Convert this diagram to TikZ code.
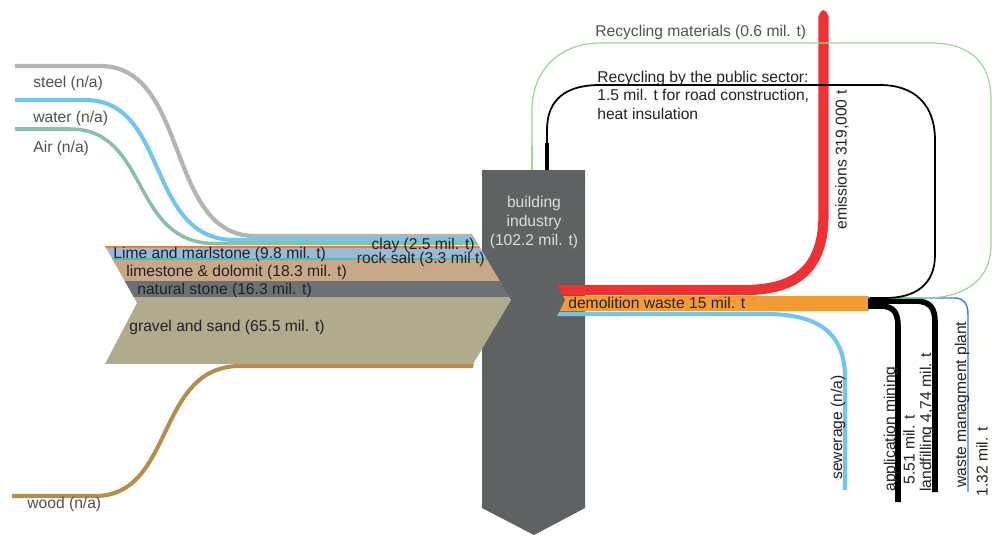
\documentclass[tikz,border=0pt]{standalone}
\usepackage{fontspec}
\setmainfont{Liberation Sans}
\usetikzlibrary{positioning}
\definecolor{boxgray}{HTML}{5F6263}
\definecolor{steelgray}{HTML}{B4B4B5}
\definecolor{waterblue}{HTML}{71C5EE}
\definecolor{airteal}{HTML}{88BFAB}
\definecolor{clayorange}{HTML}{F07E2C}
\definecolor{limeblue}{HTML}{9EB8D8}
\definecolor{saltcyan}{HTML}{3FC1C9}
\definecolor{limetan}{HTML}{C7A889}
\definecolor{stonegray}{HTML}{6E7174}
\definecolor{gravelkhaki}{HTML}{B1AB8D}
\definecolor{woodbrown}{HTML}{B48E4C}
\definecolor{emitred}{HTML}{EE3133}
\definecolor{wasteorange}{HTML}{F49C34}
\definecolor{sewerblue}{HTML}{6FC6EF}
\definecolor{plantblue}{HTML}{3A80C4}
\definecolor{recgreen}{HTML}{9ED699}
\definecolor{textdark}{HTML}{222222}
\definecolor{textgray}{HTML}{505050}
\definecolor{boxtext}{HTML}{DCDCDC}

\begin{document}
\begin{tikzpicture}[
    x=0.02cm, y=-0.02cm,
    flowtext/.style={
        font=\fontsize{8.9}{10.5}\selectfont,
        inner sep=0pt,
        anchor=west,
        text=textdark,
    },
    intext/.style={flowtext, text=textgray},
    uptext/.style={flowtext, rotate=90},
    thickflow/.style={line width=3.2pt, line cap=butt},
]
\useasboundingbox (0,0) rectangle (992,535);

\fill[boxgray] (482,170) -- (585,170) -- (585,508) -- (534,535) -- (482,508) -- cycle;

\begin{scope}
\clip (105,246) -- (137,303) -- (105,364) -- (473,364) -- (511,300) -- (472,234) -- (105,234) -- cycle;
\fill[limeblue] (100,247) rectangle (520,258);
\fill[saltcyan] (100,257.5) rectangle (520,260);
\fill[limetan] (100,260) rectangle (520,281);
\fill[stonegray] (100,281) rectangle (520,297);
\fill[gravelkhaki] (100,297) rectangle (520,364);
\fill[clayorange] (100,245.8) rectangle (520,247.6);
\end{scope}

\begin{scope}
\clip (0,0) -- (430,0) -- (472,234) -- (511,300) -- (473,366) -- (473,535) -- (0,535) -- cycle;
\draw[steelgray, line width=2.4pt] (15,66) -- (100,66) .. controls (190,66) and (165,236) .. (255,236) -- (520,236);
\draw[waterblue, line width=2.3pt] (15,100) -- (85,100) .. controls (170,100) and (145,240) .. (235,240) -- (520,240);
\draw[airteal, line width=2pt] (15,129) -- (70,129) .. controls (150,129) and (130,243.5) .. (215,243.5) -- (520,243.5);
\draw[woodbrown, line width=2.3pt] (12,496) -- (95,496) .. controls (175,496) and (155,366) .. (240,366) -- (520,366);
\end{scope}

\node[intext] (steel) at (33,83) {steel (n/a)};
\node[intext] (water) at (33,118) {water (n/a)};
\node[intext] (air) at (33,148) {Air (n/a)};
\node[intext] (wood) at (27,504) {wood (n/a)};

\node[flowtext] (lime) at (113,254) {Lime and marlstone (9.8 mil. t)};
\node[flowtext, anchor=east] (clay) at (475,245) {clay (2.5 mil. t)};
\node[flowtext, anchor=east] (salt) at (485,259) {rock salt (3.3 mil t)};
\node[flowtext] (limestone) at (126,272) {limestone \& dolomit (18.3 mil. t)};
\node[flowtext] (stone) at (137,290) {natural stone (16.3 mil. t)};
\node[flowtext] (gravel) at (129,327) {gravel and sand (65.5 mil. t)};

\node[flowtext, anchor=center, align=center, text=boxtext,
      font=\fontsize{8.9}{10.8}\selectfont] (industry) at (534,222) {building\\industry\\(102.2 mil. t)};

\draw[emitred, line width=5.8pt, line cap=butt] (550,290) -- (745,290) .. controls (800,290) and (823.5,265) .. (823.5,215) -- (823.5,16);
\fill[emitred] (818.4,16.5) -- (820.5,12) -- (823.5,10) -- (826.5,12) -- (828.6,16.5) -- cycle;
\draw[sewerblue, line width=2.3pt, line cap=butt] (550,314) -- (765,314) .. controls (815,314) and (845,330) .. (845,378) -- (845,490);
\fill[wasteorange] (550,296) -- (868,296) -- (874,303) -- (868,311) -- (550,311) -- cycle;
\fill[boxgray] (545,280) -- (555,280) -- (565,300) -- (555,320) -- (545,320) -- cycle;

\draw[black, thickflow] (868,306) -- (880,306) .. controls (893,306) and (898,312) .. (898,326) -- (898,502);
\draw[black, thickflow] (868,301) -- (915,301) .. controls (930,301) and (935,308) .. (935,322) -- (935,492);
\draw[plantblue, line width=0.8pt] (868,298) -- (955,298) .. controls (964,298) and (968,304) .. (968,315) -- (968,492);

\draw[recgreen, line width=0.7pt] (870,298) -- (925,298) .. controls (962,298) and (991,282) .. (991,245) -- (991,100) .. controls (991,62) and (970,43) .. (930,43) -- (600,43) .. controls (560,43) and (532,70) .. (532,110) -- (532,170);
\draw[recgreen, line width=1.3pt] (532,170) -- (532,145);
\draw[black, line width=1pt] (870,298) -- (885,298) .. controls (915,298) and (935,285) .. (935,255) -- (935,140) .. controls (935,105) and (915,85) .. (880,85) -- (600,85) .. controls (565,85) and (547,100) .. (547,130) -- (547,170);
\draw[black, line width=2.4pt] (547,170) -- (547,143);

\node[flowtext] (demolition) at (568,303) {demolition waste 15 mil. t};
\node[intext] (recmat) at (595,32) {Recycling materials (0.6 mil. t)};
\node[flowtext, align=left] (recpub) at (597,95) {Recycling by the public sector:\\1.5 mil. t for road construction,\\heat insulation};
\node[uptext] (emissions) at (842,230) {emissions 319,000 t};
\node[uptext] (sewerage) at (838,480) {sewerage (n/a)};
\node[uptext] (mining) at (891,492) {application mining};
\node[uptext] (miningval) at (909,485) {5.51 mil. t};
\node[uptext] (landfill) at (927,492) {landfilling 4,74 mil. t};
\node[uptext] (plant) at (962,488) {waste managment plant};
\node[uptext] (plantval) at (982,497) {1.32 mil. t};
\end{tikzpicture}
\end{document}
